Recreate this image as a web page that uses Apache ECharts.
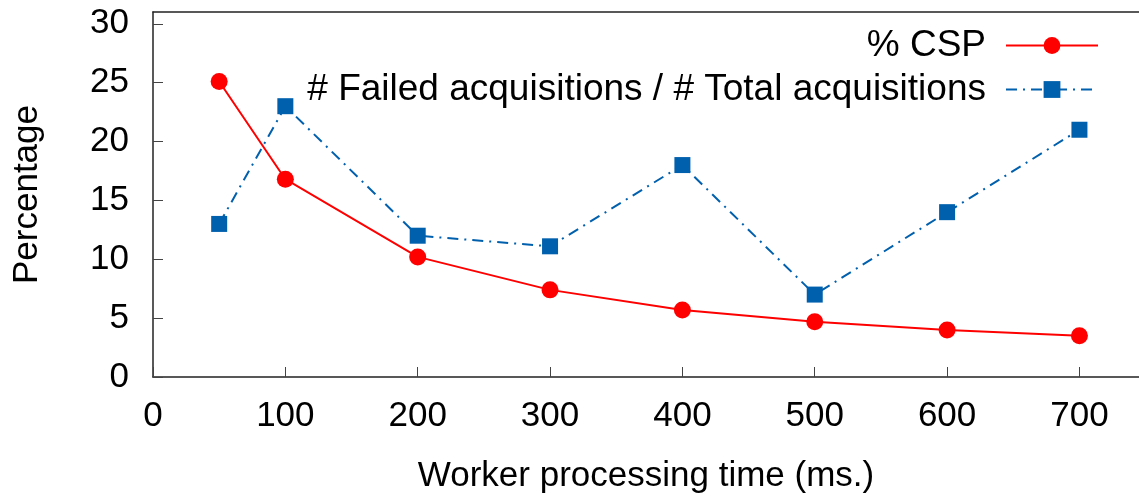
<!DOCTYPE html>
<html>
<head>
<meta charset="utf-8">
<script src="https://cdn.jsdelivr.net/npm/echarts@6/dist/echarts.min.js"></script>
<style>
  html, body { margin: 0; padding: 0; background: #fff; }
  #chart { width: 1139px; height: 503px; }
</style>
</head>
<body>
<div id="chart"></div>
<script>
// worker processing time (ms.)
var xValues = [50, 100, 200, 300, 400, 500, 600, 700];
var cspValues = [25.1, 16.8, 10.2, 7.4, 5.7, 4.7, 4.0, 3.5];
var failedValues = [13, 23, 12, 11.1, 18, 7, 14, 21];
var xTicks = [0, 100, 200, 300, 400, 500, 600, 700];
var yTicks = [0, 5, 10, 15, 20, 25, 30];

function pairs(ys) {
  return xValues.map(function (x, i) { return [x, ys[i]]; });
}

var myChart = echarts.init(document.getElementById("chart"));
var font = "Liberation Sans, Arial, Helvetica, sans-serif";
var blue = "#0060ad";
var red = "#ff0000";
var fs = 35;
var legendFs = 37;

var option = {
  backgroundColor: "#fff",
  animation: false,
  textStyle: { fontFamily: font },
  grid: {
    left: 153,
    top: 12,
    right: 0,
    bottom: 126,
  },
  legend: [
    {
      data: ["% CSP"],
      right: 35,
      top: 22,
      align: "right",
      itemWidth: 92,
      itemHeight: 21,
      textStyle: { fontSize: legendFs, color: "#000", fontFamily: font, padding: [0, 15, 0, 0] },
    },
    {
      data: ["# Failed acquisitions / # Total acquisitions"],
      right: 35,
      top: 66,
      align: "right",
      itemWidth: 92,
      itemHeight: 21,
      textStyle: { fontSize: legendFs, color: "#000", fontFamily: font, padding: [0, 15, 0, 0] },
    },
  ],
  xAxis: [
    {
      type: "value",
      min: 0,
      max: 745,
      interval: 100,
      name: "Worker processing time (ms.)",
      nameLocation: "middle",
      nameGap: 82,
      nameTextStyle: { fontSize: fs, color: "#000", fontFamily: font },
      axisLine: { lineStyle: { color: "#222", width: 1.5 } },
      axisTick: { inside: true, length: 10, lineStyle: { color: "#444" } },
      axisLabel: {
        fontSize: fs,
        color: "#000",
        margin: 22,
        showMaxLabel: false,
        formatter: function (v) { return xTicks.indexOf(v) >= 0 ? String(v) : ""; },
      },
      splitLine: { show: false },
    },
    {
      // top frame line only
      type: "value",
      position: "top",
      min: 0,
      max: 745,
      axisLine: { show: true, lineStyle: { color: "#222", width: 1.5 } },
      axisTick: { show: false },
      axisLabel: { show: false },
      splitLine: { show: false },
    },
  ],
  yAxis: {
    type: "value",
    min: 0,
    max: 31,
    interval: 5,
    name: "Percentage",
    nameLocation: "middle",
    nameGap: 108,
    nameTextStyle: { fontSize: fs, color: "#000", fontFamily: font },
    axisLine: { show: true, lineStyle: { color: "#222", width: 1.5 } },
    axisTick: { show: true, inside: true, length: 10, lineStyle: { color: "#444" } },
    axisLabel: {
      fontSize: fs,
      color: "#000",
      margin: 24,
      showMaxLabel: false,
      formatter: function (v) { return yTicks.indexOf(v) >= 0 ? String(v) : ""; },
    },
    splitLine: { show: false },
  },
  series: [
    {
      name: "% CSP",
      type: "line",
      data: pairs(cspValues),
      symbol: "circle",
      symbolSize: 17,
      itemStyle: { color: red },
      lineStyle: { color: red, width: 2 },
      z: 3,
    },
    {
      name: "# Failed acquisitions / # Total acquisitions",
      type: "line",
      data: pairs(failedValues),
      symbol: "rect",
      symbolSize: 16,
      itemStyle: { color: blue },
      lineStyle: { color: blue, width: 2, type: [11, 6, 2, 6] },
      z: 2,
    },
  ],
};

myChart.setOption(option);
window.onresize = function () {
  myChart.resize();
};
</script>
</body>
</html>
